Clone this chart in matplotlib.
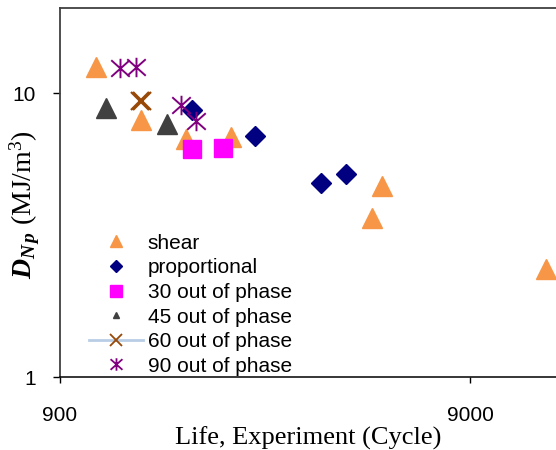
import matplotlib
matplotlib.use("Agg")
import matplotlib.pyplot as plt
from matplotlib.lines import Line2D
from matplotlib.path import Path
import matplotlib.ticker as ticker

plt.rcParams['font.family'] = ['Liberation Sans', 'DejaVu Sans']
plt.rcParams['mathtext.fontset'] = 'custom'
plt.rcParams['mathtext.rm'] = 'Liberation Serif'
plt.rcParams['mathtext.it'] = 'Liberation Serif:italic'
plt.rcParams['mathtext.bf'] = 'Liberation Serif:bold'
plt.rcParams['mathtext.bfit'] = 'Liberation Serif:italic:bold'

# data (life in cycles, D_Np in MJ/m^3)
shear_x = [1103, 1419, 1827, 2348, 5499, 5179, 13770]
shear_y = [12.4, 8.03, 6.93, 7.02, 4.73, 3.64, 2.41]

prop_x = [1887, 2698, 3905, 4497]
prop_y = [8.71, 7.07, 4.83, 5.21]

oop30_x = [1890, 2247]
oop30_y = [6.38, 6.42]

oop45_x = [1171, 1644]
oop45_y = [8.91, 7.80]

oop60_x = [1416, 1431]
oop60_y = [9.41, 9.37]

oop90_x = [1263, 1381, 1778, 1935]
oop90_y = [12.25, 12.4, 9.12, 7.97]

labels = ["shear", "proportional", "30 out of phase", "45 out of phase",
          "60 out of phase", "90 out of phase"]

# excel-style star: x with a vertical bar
star = Path([(0, -1), (0, 1), (-0.95, -0.85), (0.95, 0.85), (-0.95, 0.85), (0.95, -0.85)],
            [Path.MOVETO, Path.LINETO, Path.MOVETO, Path.LINETO, Path.MOVETO, Path.LINETO])

fig = plt.figure(figsize=(5.56, 4.5), dpi=100)
ax = fig.add_axes([59.5/556, 1-377.3/450, 1-59.5/556, (377.3-8)/450])

ax.plot(shear_x, shear_y, ls='none', marker='^', ms=14.4, color='#F79646', mec='#F79646')
ax.plot(prop_x, prop_y, ls='none', marker='D', ms=10.2, color='#000080', mec='#000080')
ax.plot(oop30_x, oop30_y, ls='none', marker='s', ms=13, color='#FF00FF', mec='#FF00FF')
ax.plot(oop45_x, oop45_y, ls='none', marker='^', ms=14.4, color='#404040', mec='#404040')
ax.plot(oop60_x, oop60_y, ls='-', lw=2, color='#B9CDE5', marker='x', ms=13.5,
        mec='#984807', mew=1.6)
ax.plot(oop90_x, oop90_y, ls='none', marker=star, ms=14, mfc='none', mec='#800080', mew=1.4)

ax.set_xscale('log')
ax.set_yscale('log')
ax.set_xlim(900, 900*10**((556-59.5)/410.7))
ax.set_ylim(1, 20)

ax.xaxis.set_major_locator(ticker.FixedLocator([900, 9000]))
ax.yaxis.set_major_locator(ticker.FixedLocator([1, 10]))
ax.xaxis.set_minor_locator(ticker.NullLocator())
ax.yaxis.set_minor_locator(ticker.NullLocator())
ax.xaxis.set_major_formatter(ticker.FuncFormatter(lambda v, _: '%d' % round(v)))
ax.yaxis.set_major_formatter(ticker.FuncFormatter(lambda v, _: '%d' % round(v)))
ax.tick_params(axis='x', direction='out', length=4.5, width=1, labelsize=15, pad=16)
ax.tick_params(axis='y', direction='out', length=4.7, width=1, labelsize=15, pad=12.5)

ax.spines['right'].set_visible(False)
for s in ['left', 'top']:
    ax.spines[s].set_color('#404040')
    ax.spines[s].set_linewidth(1.3)
ax.spines['bottom'].set_color('black')
ax.spines['bottom'].set_linewidth(1.1)

ax.set_xlabel('Life, Experiment (Cycle)', family='Liberation Serif', fontsize=19, labelpad=1)
ax.set_ylabel(r'$\mathbfit{D}_{\mathbfit{N\,p}}$ (MJ/m$^{3}$)', family='Liberation Serif',
              fontsize=20)
ax.yaxis.set_label_coords(-0.036, 0.468)

handles = [
    Line2D([], [], ls='none', marker='^', ms=9, color='#F79646'),
    Line2D([], [], ls='none', marker='D', ms=6.5, color='#000080'),
    Line2D([], [], ls='none', marker='s', ms=9, color='#FF00FF'),
    Line2D([], [], ls='none', marker='^', ms=4, color='#404040'),
    Line2D([], [], ls='-', lw=2, color='#B9CDE5', marker='x', ms=9, mec='#984807', mew=1.3),
    Line2D([], [], ls='none', marker=star, ms=9, mfc='none', mec='#800080', mew=1.3),
]
ax.legend(handles, labels, loc='upper left', bbox_to_anchor=(0.06, 0.389), frameon=False,
          fontsize=15, handlelength=2.6, handletextpad=0.2, labelspacing=0.27,
          borderpad=0, borderaxespad=0)

fig.savefig('out.png', dpi=100)
